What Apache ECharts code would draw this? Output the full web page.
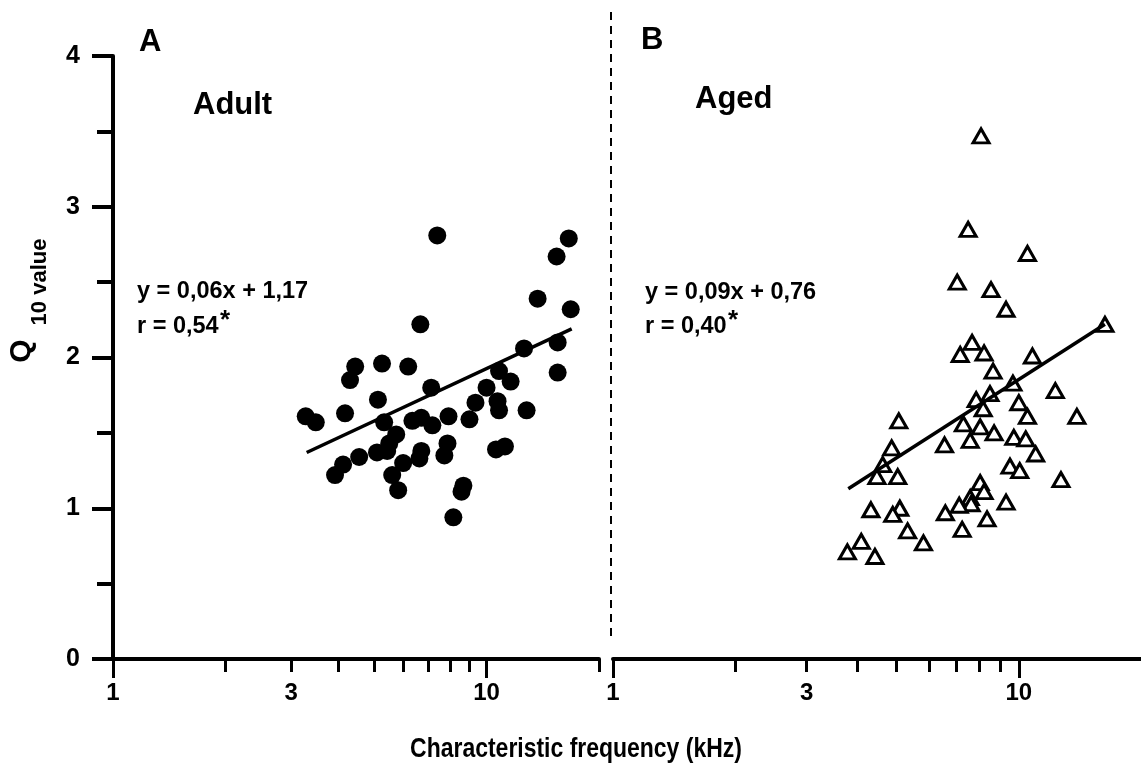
<!DOCTYPE html>
<html>
<head>
<meta charset="utf-8">
<script src="https://cdn.jsdelivr.net/npm/echarts@6/dist/echarts.min.js"></script>
<style>html,body{margin:0;padding:0;background:#fff}#c{width:1141px;height:778px}</style>
</head>
<body>
<div id="c"></div>
<script>
// Panel A (Adult): characteristic frequency (kHz) and Q10 value
const adultCF = [7.38,16.6,15.4,13.7,16.8,6.65,12.6,15.5,15.5,4.45,4.31,5.25,6.17,7.11,10.8,11.6,10.0,5.12,9.34,10.7,10.8,12.8,3.28,3.49,4.18,5.32,6.33,6.69,7.16,7.91,9.0,5.73,5.49,5.09,5.42,4.56,4.13,3.93,5.98,5.59,5.80,6.69,6.61,7.86,7.71,8.67,8.57,8.15,10.6,11.2];
const adultQ10 = [2.81,2.79,2.67,2.39,2.32,2.22,2.06,2.10,1.90,1.94,1.85,1.96,1.94,1.80,1.91,1.84,1.80,1.72,1.70,1.71,1.65,1.65,1.61,1.57,1.63,1.57,1.58,1.60,1.55,1.61,1.59,1.49,1.43,1.37,1.38,1.34,1.29,1.22,1.30,1.22,1.12,1.38,1.33,1.43,1.35,1.15,1.11,0.94,1.39,1.41];
// Panel B (Aged)
const agedCF = [8.07,7.50,10.5,7.05,8.54,9.30,16.3,7.67,7.17,8.21,8.64,10.8,9.67,12.3,8.49,7.85,8.17,10.0,10.5,13.9,5.06,7.30,8.03,8.69,9.72,10.4,7.59,6.56,4.86,11.0,4.62,4.47,5.03,9.51,10.05,12.7,8.03,8.21,7.59,7.63,7.13,9.30,4.32,5.09,4.89,6.59,8.35,7.25,5.32,5.82,4.09,3.78,4.42];
const agedQ10 = [3.47,2.85,2.69,2.50,2.45,2.32,2.22,2.10,2.02,2.03,1.91,2.01,1.83,1.78,1.76,1.72,1.66,1.70,1.61,1.61,1.58,1.56,1.54,1.50,1.47,1.46,1.45,1.42,1.40,1.36,1.29,1.21,1.21,1.28,1.25,1.19,1.17,1.11,1.07,1.03,1.02,1.04,0.99,1.00,0.96,0.97,0.93,0.86,0.85,0.77,0.78,0.71,0.68];
// Regression line end points (as drawn)
const adultFitCF = [3.3, 16.9];
const adultFitQ = [1.37, 2.19];
const agedFitCF = [3.8, 16.3];
const agedFitQ = [1.13, 2.22];
// Tick labels
const xLabelValues = [1, 3, 10];
const xMajorTicks = [1, 10];
const xMinorTicksA = [2, 3, 4, 5, 6, 7, 8, 9, 20];
const xMinorTicksB = [2, 3, 4, 5, 6, 7, 8, 9];

const FONT = "'Liberation Sans', Arial, sans-serif";
const pairs = (a, b) => a.map((v, i) => [v, b[i]]);

function xMain(grid) {
  return {
    type: 'log', logBase: 10, gridIndex: grid, min: 1, max: 20, position: 'bottom',
    axisLine: { show: true, lineStyle: { color: '#000', width: 4 } },
    axisTick: { show: true, length: 19, customValues: xMajorTicks, lineStyle: { color: '#000', width: 3 } },
    axisLabel: { show: true, customValues: xLabelValues, margin: 22, color: '#000', fontSize: 24, fontWeight: 'bold', fontFamily: FONT },
    splitLine: { show: false }, minorTick: { show: false }
  };
}
function xMinor(grid, ticks) {
  return {
    type: 'log', logBase: 10, gridIndex: grid, min: 1, max: 20, position: 'bottom',
    axisLine: { show: false },
    axisTick: { show: true, length: 13, customValues: ticks, lineStyle: { color: '#000', width: 3 } },
    axisLabel: { show: false }, splitLine: { show: false }
  };
}
function txt(x, y, text, size, extra) {
  return Object.assign({ type: 'text', x: x, y: y, style: { text: text, fontSize: size, fontWeight: 'bold', fontFamily: FONT, fill: '#000', align: 'left', verticalAlign: 'middle' } }, extra || {});
}

const chart = echarts.init(document.getElementById('c'), null, { renderer: 'canvas' });
chart.setOption({
  backgroundColor: '#fff',
  animation: false,
  grid: [
    { left: 113, top: 56, width: 486, height: 603 },
    { left: 613, top: 56, width: 532, height: 603 }
  ],
  xAxis: [xMain(0), xMinor(0, xMinorTicksA), xMain(1), xMinor(1, xMinorTicksB)],
  yAxis: [
    {
      type: 'value', gridIndex: 0, min: 0, max: 4, interval: 1,
      axisLine: { show: true, lineStyle: { color: '#000', width: 4 } },
      axisTick: { show: true, length: 21, lineStyle: { color: '#000', width: 4 } },
      minorTick: { show: true, splitNumber: 2, length: 16, lineStyle: { color: '#000', width: 4 } },
      axisLabel: { margin: 33, color: '#000', fontSize: 25, fontWeight: 'bold', fontFamily: FONT },
      splitLine: { show: false }
    },
    { type: 'value', gridIndex: 1, min: 0, max: 4, interval: 1, show: false }
  ],
  series: [
    {
      type: 'scatter', xAxisIndex: 0, yAxisIndex: 0, data: pairs(adultCF, adultQ10),
      symbol: 'circle', symbolSize: 18, itemStyle: { color: '#000', opacity: 1 }
    },
    {
      type: 'line', xAxisIndex: 0, yAxisIndex: 0, data: pairs(adultFitCF, adultFitQ),
      symbol: 'none', lineStyle: { color: '#000', width: 3.5 }
    },
    {
      type: 'scatter', xAxisIndex: 2, yAxisIndex: 1, data: pairs(agedCF, agedQ10),
      symbol: 'triangle', symbolSize: [16, 14],
      itemStyle: { color: '#fff', borderColor: '#000', borderWidth: 3, opacity: 1 }
    },
    {
      type: 'line', xAxisIndex: 2, yAxisIndex: 1, data: pairs(agedFitCF, agedFitQ),
      symbol: 'none', lineStyle: { color: '#000', width: 3.5 }, z: 3
    }
  ],
  graphic: [
    { type: 'line', shape: { x1: 611, y1: 12, x2: 611, y2: 642 }, style: { stroke: '#000', lineWidth: 2, lineDash: [8, 6] } },
    txt(139, 42, 'A', 31),
    txt(193, 105, 'Adult', 31),
    txt(641, 40, 'B', 31),
    txt(695, 99, 'Aged', 31),
    txt(137, 292, 'y = 0,06x + 1,17', 23.5),
    txt(137, 327, 'r = 0,54', 23.5),
    txt(220, 321, '*', 26),
    txt(645, 293, 'y = 0,09x + 0,76', 23.5),
    txt(645, 327, 'r = 0,40', 23.5),
    txt(728, 321, '*', 26),
    { type: 'text', x: 576, y: 749, scaleX: 0.82, style: { text: 'Characteristic frequency (kHz)', fontSize: 28, fontWeight: 'bold', fontFamily: FONT, fill: '#000', align: 'center', verticalAlign: 'middle' } },
    { type: 'text', x: 22, y: 351, rotation: Math.PI / 2, style: { text: 'Q', fontSize: 30, fontWeight: 'bold', fontFamily: FONT, fill: '#000', align: 'center', verticalAlign: 'middle' } },
    { type: 'text', x: 40, y: 282, rotation: Math.PI / 2, style: { text: '10 value', fontSize: 22, fontWeight: 'bold', fontFamily: FONT, fill: '#000', align: 'center', verticalAlign: 'middle' } }
  ]
});
</script>
</body>
</html>
